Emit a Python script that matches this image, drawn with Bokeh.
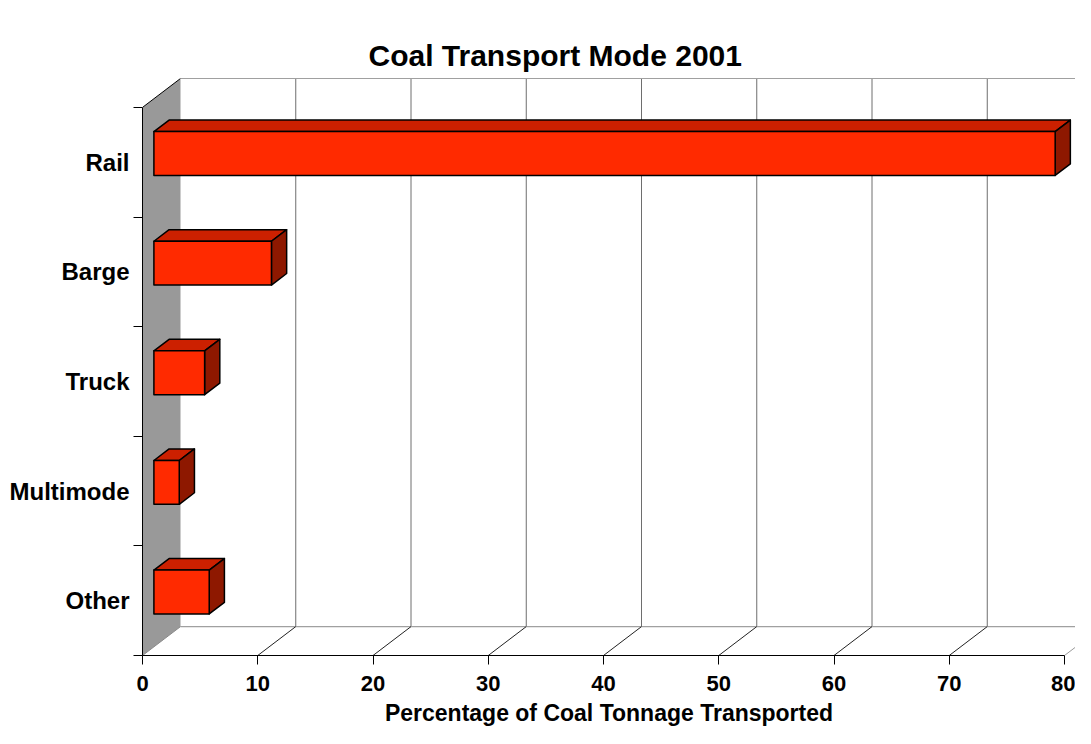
from bokeh.plotting import figure
from bokeh.models import FixedTicker, Range1d, Title
from bokeh.embed import file_html
from bokeh.resources import INLINE

# ---- data ----
categories = ["Rail", "Barge", "Truck", "Multimode", "Other"]
percent = [78.2, 10.2, 4.4, 2.2, 4.8]
x_ticks = [0, 10, 20, 30, 40, 50, 60, 70, 80]
title_text = "Coal Transport Mode 2001"
x_label = "Percentage of Coal Tonnage Transported"

# ---- layout (pixels) ----
W, H = 1075, 728
LEFT, BOTTOM, TOP = 142, 71, 76
PX_X = 11.525      # pixels per percent
PX_Y = 110.0       # pixels per category band
dx = 38 / PX_X     # depth offset in data units
dy = 29 / PX_Y
n = len(categories)
y0, y1 = 0.5, n + 0.5
x_end = (W - LEFT) / PX_X
y_end = y1 + dy + 2 / PX_Y
xmax = x_ticks[-1]

FONT = "Liberation Sans"
FRONT, TOPC, SIDE, WALL = "#FF2A00", "#CC2000", "#8E1800", "#999999"

p = figure(width=W, height=H, x_range=Range1d(0, x_end), y_range=Range1d(y0, y_end),
           output_backend="svg", toolbar_location=None, title=None,
           min_border_left=LEFT, min_border_right=0, min_border_top=TOP,
           min_border_bottom=BOTTOM)
p.outline_line_color = None
p.grid.visible = False
p.background_fill_color = "white"

# title: real title first, then an invisible spacer
p.add_layout(Title(text=title_text, align="left", offset=368 - LEFT, text_font=FONT,
                   text_font_style="bold", text_font_size="30px", text_color="black",
                   standoff=10), "above")
p.add_layout(Title(text=".", text_alpha=0, text_font_size="20px", standoff=5), "above")

# left wall
p.patch([0, dx, dx, 0], [y0, y0 + dy, y1 + dy, y1], fill_color=WALL, line_color=None)
p.segment(x0=[0], y0=[y1], x1=[dx], y1=[y1 + dy], line_color="black", line_width=1)

# back wall grid lines
gx = [t + dx for t in x_ticks[1:]]
p.segment(x0=gx, y0=[y0 + dy] * len(gx), x1=gx, y1=[y1 + dy] * len(gx),
          line_color="#6e6e6e", line_width=1)
# back top line and back floor line
p.segment(x0=[dx, dx], y0=[y1 + dy, y0 + dy], x1=[xmax + dx, xmax + dx],
          y1=[y1 + dy, y0 + dy], line_color="#a0a0a0", line_width=1.2)
# floor diagonals
fx = x_ticks[1:-1]
p.segment(x0=fx, y0=[y0] * len(fx), x1=[t + dx for t in fx], y1=[y0 + dy] * len(fx),
          line_color="#222222", line_width=1)
p.segment(x0=[0], y0=[y0], x1=[dx], y1=[y0 + dy], line_color="#888888", line_width=1)
p.segment(x0=[xmax], y0=[y0], x1=[xmax + dx], y1=[y0 + dy], line_color="#999999", line_width=1)

# bars
z0, z1, half = 0.3, 0.7, 0.2
yc = [n - i for i in range(n)]
fl = [z0 * dx] * n
fr = [v + z0 * dx for v in percent]
fb = [c - half + z0 * dy for c in yc]
ft = [c + half + z0 * dy for c in yc]
top_xs = [[z0 * dx, z1 * dx, v + z1 * dx, v + z0 * dx] for v in percent]
top_ys = [[c + half + z0 * dy, c + half + z1 * dy, c + half + z1 * dy, c + half + z0 * dy] for c in yc]
side_xs = [[v + z0 * dx, v + z1 * dx, v + z1 * dx, v + z0 * dx] for v in percent]
side_ys = [[c - half + z0 * dy, c - half + z1 * dy, c + half + z1 * dy, c + half + z0 * dy] for c in yc]
p.patches(top_xs, top_ys, fill_color=TOPC, line_color="black", line_width=1.5, line_join="round")
p.patches(side_xs, side_ys, fill_color=SIDE, line_color="black", line_width=1.5, line_join="round")
p.quad(left=fl, right=fr, bottom=fb, top=ft, fill_color=FRONT, line_color="black",
       line_width=1.5, line_join="round")

# x axis
xa = p.xaxis[0]
xa.ticker = FixedTicker(ticks=x_ticks, minor_ticks=[])
xa.bounds = (0, xmax)
xa.axis_line_color = "black"
xa.major_tick_out = 9
xa.major_tick_in = 0
xa.minor_tick_out = 0
xa.major_tick_line_color = "black"
xa.major_label_text_font = FONT
xa.major_label_text_font_style = "bold"
xa.major_label_text_font_size = "22px"
xa.major_label_text_color = "black"
xa.major_label_standoff = 11
xa.axis_label = x_label
xa.axis_label_text_font = FONT
xa.axis_label_text_font_style = "bold"
xa.axis_label_text_font_size = "23px"
xa.axis_label_text_color = "black"
xa.axis_label_standoff = 6

# y axis
ya = p.yaxis[0]
ya.ticker = FixedTicker(ticks=yc, minor_ticks=[k + 0.5 for k in range(n + 1)])
ya.major_label_overrides = {c: cat for c, cat in zip(yc, categories)}
ya.bounds = (y0, y1)
ya.axis_line_color = "black"
ya.major_tick_out = 0
ya.major_tick_in = 0
ya.minor_tick_out = 9
ya.minor_tick_in = 0
ya.minor_tick_line_color = "black"
ya.major_label_text_font = FONT
ya.major_label_text_font_style = "bold"
ya.major_label_text_font_size = "24px"
ya.major_label_text_color = "black"
ya.major_label_standoff = 4

open("out.html", "w").write(file_html(p, INLINE))
